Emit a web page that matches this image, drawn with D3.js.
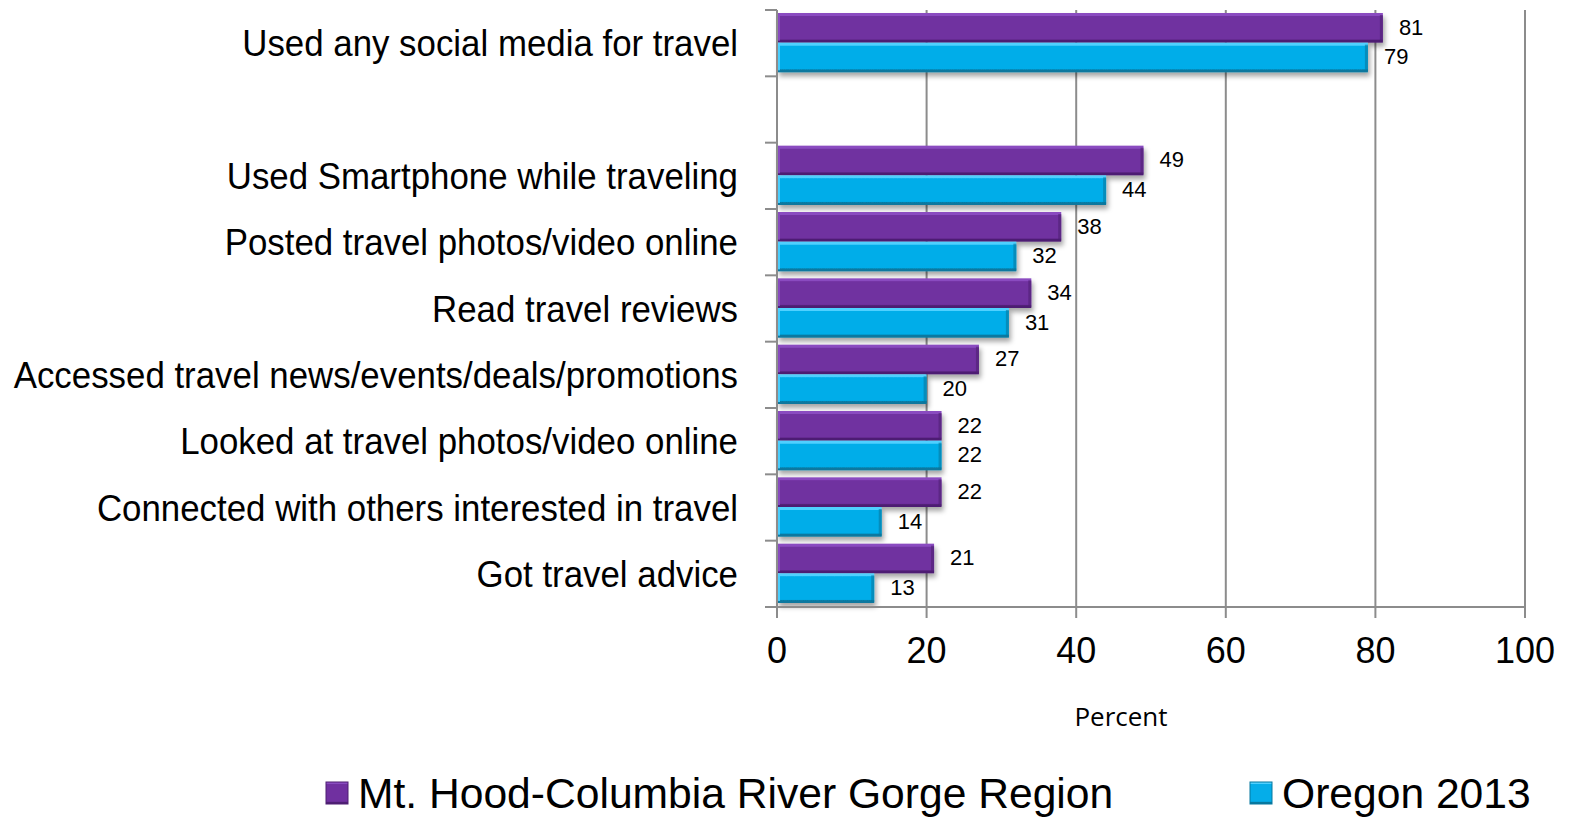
<!DOCTYPE html>
<html><head><meta charset="utf-8">
<script src="https://cdn.jsdelivr.net/npm/d3@7"></script>
<style>
html,body{margin:0;padding:0;background:#fff;}
svg{display:block;}
</style></head>
<body>
<svg id="chart" width="1570" height="818"></svg>
<script>
const categories = ["Used any social media for travel", "", "Used Smartphone while traveling", "Posted travel photos/video online", "Read travel reviews", "Accessed travel news/events/deals/promotions", "Looked at travel photos/video online", "Connected with others interested in travel", "Got travel advice"];
const seriesNames = ["Mt. Hood-Columbia River Gorge Region", "Oregon 2013"];
const mtHood = [81, null, 49, 38, 34, 27, 22, 22, 21];
const oregon2013 = [79, null, 44, 32, 31, 20, 22, 14, 13];
const xTicks = [0, 20, 40, 60, 80, 100];
const axisTitle = "Percent";

(function () {
const FONT = "'Liberation Sans', Arial, sans-serif";
const colors = {"Mt. Hood-Columbia River Gorge Region": ["#8a4cc0", "#7030A0", "#4e1f73"], "Oregon 2013": ["#4fd0ff", "#05ADE9", "#07789f"]};

const svg = d3.select("#chart");
const pLeft = 777, pRight = 1525, pTop = 10, pBottom = 607;

const x = d3.scaleLinear().domain([0, 100]).range([pLeft, pRight]);
const y = d3.scaleBand().domain(categories.map((c, i) => i)).range([pTop, pBottom]).padding(0);
const ySub = d3.scaleBand().domain(seriesNames).range([3, y.bandwidth() - 4]).padding(0);

const defs = svg.append("defs");
seriesNames.forEach((s, i) => {
  const c = colors[s];
  const g = defs.append("linearGradient").attr("id", "grad" + i).attr("x1", 0).attr("y1", 0).attr("x2", 0).attr("y2", 1);
  g.append("stop").attr("offset", "0%").attr("stop-color", c[0]);
  g.append("stop").attr("offset", "9%").attr("stop-color", c[0]);
  g.append("stop").attr("offset", "11%").attr("stop-color", c[1]);
  g.append("stop").attr("offset", "88%").attr("stop-color", c[1]);
  g.append("stop").attr("offset", "92%").attr("stop-color", c[2]);
  g.append("stop").attr("offset", "100%").attr("stop-color", c[2]);
});
const f = defs.append("filter").attr("id", "shadow").attr("x", "-5%").attr("y", "-30%").attr("width", "115%").attr("height", "180%");
f.append("feDropShadow").attr("dx", 2).attr("dy", 4).attr("stdDeviation", 2.5).attr("flood-color", "#000").attr("flood-opacity", 0.35);

// gridlines
const grid = svg.append("g");
grid.selectAll("line").data(xTicks.filter(d => d > 0)).join("line")
  .attr("x1", d => x(d)).attr("x2", d => x(d)).attr("y1", pTop).attr("y2", pBottom + 11)
  .attr("stroke", "#8c8c8c").attr("stroke-width", 2);

// bars
const rows = categories.map((c, i) => ({i, vals: [mtHood[i], oregon2013[i]]}));
const barG = svg.append("g");
rows.forEach(r => {
  r.vals.forEach((v, k) => {
    if (v == null) return;
    const s = seriesNames[k];
    const y0 = y(r.i) + ySub(s);
    barG.append("rect")
      .attr("x", x(0)).attr("y", y0).attr("width", x(v) - x(0)).attr("height", ySub.bandwidth())
      .attr("fill", `url(#grad${k})`).attr("filter", "url(#shadow)");
    barG.append("rect")
      .attr("x", x(0)).attr("y", y0 + 2).attr("width", 3).attr("height", ySub.bandwidth() - 4)
      .attr("fill", colors[s][0]).attr("opacity", 0.9);
    barG.append("rect")
      .attr("x", x(v) - 3).attr("y", y0 + 2).attr("width", 3).attr("height", ySub.bandwidth() - 3)
      .attr("fill", colors[s][2]).attr("opacity", 0.6);
    svg.append("text")
      .attr("x", x(v) + 16).attr("y", y0 + ySub.bandwidth() / 2 - 1)
      .attr("dy", "0.36em")
      .attr("font-family", FONT).attr("font-size", 22)
      .attr("fill", "#000").text(v);
  });
});

// axes lines
const axG = svg.append("g").attr("stroke", "#8c8c8c").attr("stroke-width", 2);
axG.append("line").attr("x1", pLeft).attr("x2", pLeft).attr("y1", pTop).attr("y2", pBottom + 11);
axG.append("line").attr("x1", pLeft - 12).attr("x2", pRight).attr("y1", pBottom).attr("y2", pBottom);
const bounds = categories.map((c, i) => y(i)).concat([pBottom]);
axG.selectAll("line.ct").data(bounds).join("line").attr("class", "ct")
  .attr("x1", pLeft - 12).attr("x2", pLeft).attr("y1", d => d).attr("y2", d => d);

// x tick labels
svg.append("g").selectAll("text").data(xTicks).join("text")
  .attr("x", d => x(d)).attr("y", 663)
  .attr("text-anchor", "middle")
  .attr("font-family", FONT).attr("font-size", 36)
  .attr("fill", "#000").text(d => d);

// category labels (slightly condensed, like the reference)
svg.append("g").selectAll("text").data(categories).join("text")
  .attr("transform", (d, i) => `translate(${pLeft - 39},${y(i) + y.bandwidth() / 2}) scale(0.955,1)`)
  .attr("dy", "0.36em").attr("text-anchor", "end")
  .attr("font-family", FONT).attr("font-size", 36.5)
  .attr("fill", "#000").text(d => d);

// axis title
svg.append("text").attr("x", 1121).attr("y", 726).attr("text-anchor", "middle")
  .attr("font-family", "'Open Sans', sans-serif").attr("font-size", 26).attr("fill", "#000").text(axisTitle);

// legend
const legendX = [326, 1250];
seriesNames.forEach((s, k) => {
  const g = svg.append("g").attr("transform", `translate(${legendX[k]},782)`);
  g.append("rect").attr("width", 22).attr("height", 22).attr("fill", `url(#grad${k})`)
    .attr("stroke", colors[s][2]).attr("stroke-width", 1);
  g.append("text").attr("x", 32).attr("y", 26)
    .attr("font-family", FONT).attr("font-size", 42.6)
    .attr("fill", "#000").text(s);
});
})();
</script>
</body></html>
